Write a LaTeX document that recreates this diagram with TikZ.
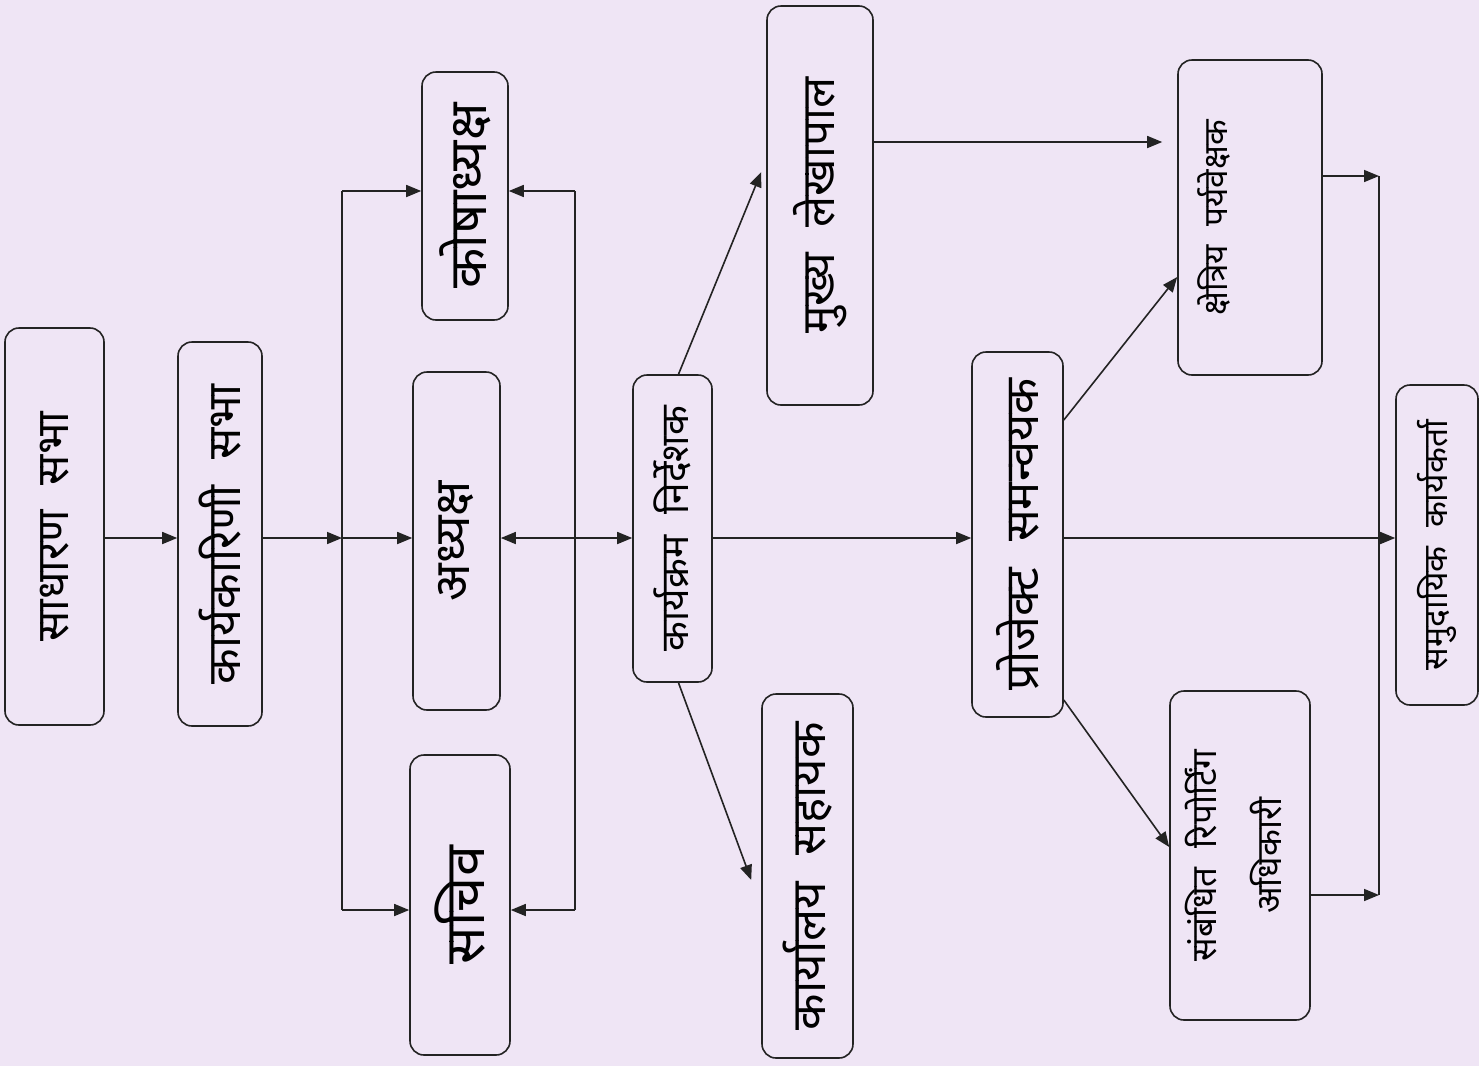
\documentclass[tikz,border=0pt]{standalone}
\usepackage{fontspec}
\newfontfamily\dev[Script=Devanagari]{Noto Sans}
\usetikzlibrary{arrows.meta,calc}
\definecolor{bg}{RGB}{239,229,245}
\definecolor{ink}{RGB}{35,35,35}
\newcommand{\lab}[2]{\rotatebox{90}{\resizebox{#1pt}{!}{\dev #2}}}
\newcommand{\gap}{\hspace{0.55em}}
\begin{document}
\begin{tikzpicture}[x=1pt,y=-1pt,
  box/.style={draw=ink, line width=1.6pt, rounded corners=14pt, inner sep=0pt, anchor=center},
  conn/.style={draw=ink, line width=1.6pt},
  arr/.style={conn, -{Triangle[length=15pt,width=12pt]}},
  arrr/.style={conn, {Triangle[length=15pt,width=12pt]}-{Triangle[length=15pt,width=12pt]}}]
\fill[bg] (0,0) rectangle (1479,1066);
\useasboundingbox (0,0) rectangle (1479,1066);

\node[box, minimum width=99pt, minimum height=397pt] (sadh) at (54.5,526.5) {\lab{230}{साधारण\gap सभा}};
\node[box, minimum width=84pt, minimum height=384pt] (kary) at (220,534) {\lab{300}{कार्यकारिणी\gap सभा}};
\node[box, minimum width=86pt, minimum height=248pt] (kosh) at (465,196) {\lab{185}{कोषाध्यक्ष}};
\node[box, minimum width=87pt, minimum height=338pt] (adhy) at (456.5,541) {\lab{120}{अध्यक्ष}};
\node[box, minimum width=100pt, minimum height=300pt] (sach) at (460,905) {\lab{118}{सचिव}};
\node[box, minimum width=79pt, minimum height=307pt] (kdir) at (672.5,528.5) {\lab{245}{कार्यक्रम\gap निर्देशक}};
\node[box, minimum width=106pt, minimum height=399pt] (mukh) at (820,205.5) {\lab{256}{मुख्य\gap लेखापाल}};
\node[box, minimum width=91pt, minimum height=364pt] (kasa) at (807.5,876) {\lab{308}{कार्यालय\gap सहायक}};
\node[box, minimum width=91pt, minimum height=365pt] (proj) at (1017.5,534.5) {\lab{312}{प्रोजेक्ट\gap समन्वयक}};
\node[box, minimum width=144pt, minimum height=315pt] (kshe) at (1250,217.5) {\lab{195}{क्षेत्रिय\gap पर्यवेक्षक}\hspace*{72pt}};
\node[box, minimum width=140pt, minimum height=329pt] (repo) at (1240,855.5) {\rotatebox{90}{\resizebox{212pt}{!}{\dev\begin{tabular}{@{}c@{}}संबंधित\gap रिपोर्टिंग\\[6pt]अधिकारी\end{tabular}}}};
\node[box, minimum width=82pt, minimum height=320pt] (samu) at (1437,545) {\lab{250}{समुदायिक\gap कार्यकर्ता}};

\coordinate (spine) at (0,538);
\coordinate (bL) at (342,0);
\coordinate (bR) at (575,0);
\coordinate (bF) at (1379,0);
\coordinate (yK) at (0,191);
\coordinate (yS) at (0,910);
\coordinate (yM) at (0,142);
\coordinate (yMl) at (0,172);
\coordinate (yKa) at (0,880);
\coordinate (yP1) at (0,420);
\coordinate (yP2) at (0,277);
\coordinate (yP3) at (0,700);
\coordinate (yR) at (0,847);
\coordinate (yF1) at (0,176);
\coordinate (yF2) at (0,895);

\draw[arr] (sadh.east |- spine) -- (kary.west |- spine);
\draw[arr] (kary.east |- spine) -- (bL |- spine);
\draw[conn] (bL |- yK) -- (bL |- yS);
\draw[arr] (bL |- yK) -- (kosh.west |- yK);
\draw[arr] (bL |- spine) -- (adhy.west |- spine);
\draw[arr] (bL |- yS) -- (sach.west |- yS);
\draw[conn] (bR |- yK) -- (bR |- yS);
\draw[arr] (bR |- yK) -- (kosh.east |- yK);
\draw[arr] (bR |- yS) -- (sach.east |- yS);
\draw[arrr] (adhy.east |- spine) -- (kdir.west |- spine);
\draw[arr] ([xshift=6pt]kdir.north) -- ($(mukh.west |- yMl)+(-5,0)$);
\draw[arr] ([xshift=6pt]kdir.south) -- ($(kasa.west |- yKa)+(-10,0)$);
\draw[arr] (kdir.east |- spine) -- (proj.west |- spine);
\draw[arr] (mukh.east |- yM) -- ($(kshe.west |- yM)+(-15,0)$);
\draw[arr] (proj.east |- yP1) -- (kshe.west |- yP2);
\draw[arr] (proj.east |- yP3) -- (repo.west |- yR);
\draw[arr] (proj.east |- spine) -- (samu.west |- spine);
\draw[conn] (bF |- yF1) -- (bF |- yF2);
\draw[arr] (kshe.east |- yF1) -- (bF |- yF1);
\draw[arr] (repo.east |- yF2) -- (bF |- yF2);
\end{tikzpicture}
\end{document}
